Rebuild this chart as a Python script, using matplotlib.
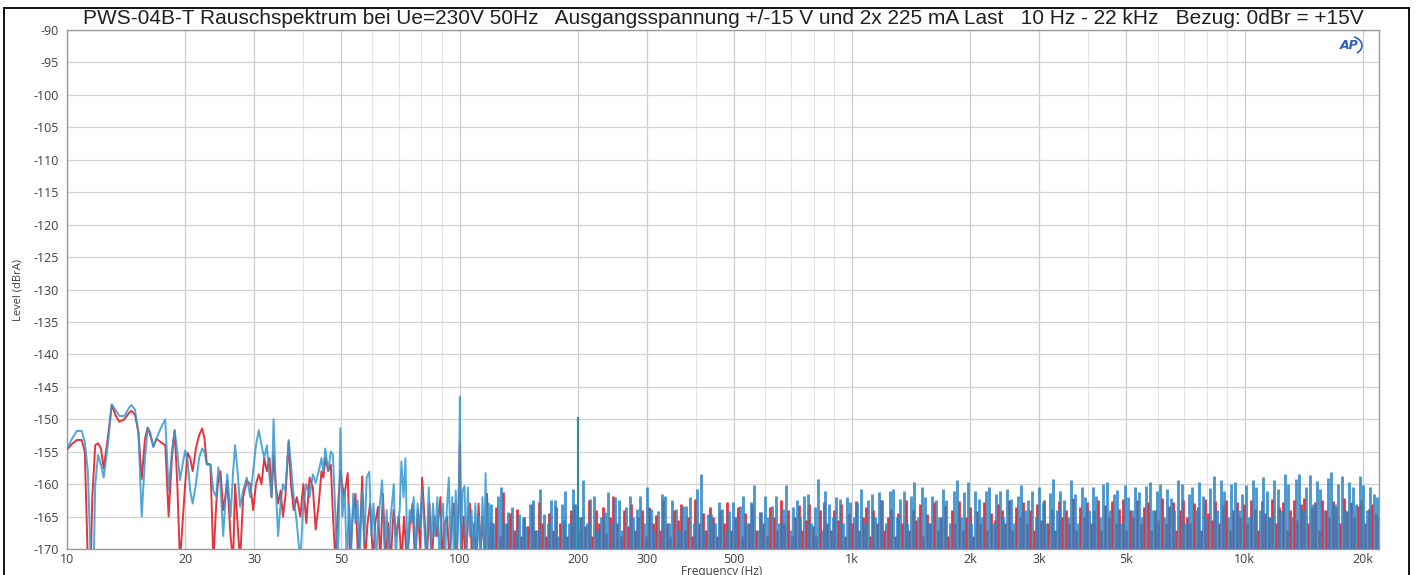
import numpy as np
import matplotlib
matplotlib.use("Agg")
import matplotlib.pyplot as plt
from matplotlib.ticker import FixedLocator, NullFormatter, NullLocator
from matplotlib.lines import Line2D
from matplotlib.patches import Arc

# ---------------- data ----------------
title = ("PWS-04B-T Rauschspektrum bei Ue=230V 50Hz   Ausgangsspannung +/-15 V und 2x 225 mA Last"
         "   10 Hz - 22 kHz   Bezug: 0dBr = +15V")
x_ticks = [10, 20, 30, 50, 100, 200, 300, 500, 1000, 2000, 3000, 5000, 10000, 20000]
x_tick_labels = ["10", "20", "30", "50", "100", "200", "300", "500", "1k", "2k", "3k", "5k", "10k", "20k"]
x_minor = [40, 60, 70, 80, 90, 400, 600, 700, 800, 900, 4000, 6000, 7000, 8000, 9000]
y_ticks = list(range(-90, -171, -5))

# low-frequency part (10 Hz ... 120 Hz), blue channel
blue_f = [10.0, 10.3, 10.6, 10.9, 11.1, 11.3, 11.5, 11.7, 11.8, 12.0, 12.2, 12.4, 12.7, 13.0, 13.3,
          13.6, 14.0, 14.4, 14.6, 14.9, 15.2, 15.5, 15.8, 16.05, 16.3, 16.6, 16.9, 17.3, 17.8, 18.15,
          18.5, 18.8, 19.1, 19.4, 19.7, 20.0, 20.3, 20.6, 20.9, 21.3, 21.7, 22.1, 22.4, 22.7, 23.2,
          23.6, 24.0, 24.3, 24.6, 25.0, 25.3, 25.6, 26.1, 26.5, 26.8, 27.2, 27.6, 28.1, 28.7, 29.3,
          29.8, 30.3, 30.8, 31.3, 31.8, 32.3, 32.8, 33.2, 33.6, 34.0, 34.5, 35.0, 35.5, 36.0, 36.7,
          37.2, 37.8, 38.5, 39.3, 40.0, 40.7, 41.5, 42.3, 43.0, 43.8, 44.5, 45.0, 45.5, 46.3, 47.0,
          47.6, 48.3, 48.8, 49.2,
          49.7, 50.3, 51.0, 51.6, 52.3, 53.0, 53.6, 54.3, 55.0, 55.7, 56.4, 57.2, 58.0, 58.9, 59.6,
          60.4, 61.2, 62.0, 62.7, 63.5, 64.4, 65.2, 66.0, 66.8, 68.0, 68.8, 69.6, 70.4, 71.1, 72.0,
          72.8, 73.7, 74.6, 75.5, 76.4, 77.3, 78.2, 79.2, 80.3, 81.2, 82.3, 83.5, 84.5, 85.6, 86.7,
          87.8, 88.9, 89.8, 90.8, 91.8, 92.8, 93.9, 94.9, 95.8, 96.8, 97.8, 98.7, 99.6, 100.2, 100.8,
          101.8, 103.0, 104.0, 105.0, 106.2, 107.3, 108.5, 109.7, 110.9, 112.0, 113.2, 114.4, 115.6,
          116.5, 117.6, 118.8, 120.0]
blue_lvl = [-154.5, -153.0, -151.8, -151.8, -153.5, -158, -172, -172, -160, -155.5, -157, -159, -154, -147.7, -148.6,
            -149.5, -149.5, -148.2, -147.8, -148.5, -152, -165, -156, -151.3, -152, -154.3, -153, -151.5, -150, -161,
            -155, -151.7, -155, -159.4, -157, -154.8, -156.5, -161, -163, -160, -156, -154.5, -155, -157, -157,
            -161, -162, -157.4, -160, -168, -163, -158.5, -165, -158, -154, -158, -163.5, -161, -159, -162,
            -158, -154, -151.7, -154, -156, -154, -159, -162, -150, -160, -168, -163, -160, -161, -153.2,
            -157, -162, -166, -172, -163, -160, -162, -158.5, -159.8, -158, -156, -158, -154.5, -158, -155,
            -155.5, -165, -172, -168,
            -151.4, -165, -161, -172, -163, -170, -161.5, -166, -162.5, -172, -161, -169, -159, -158.1, -168,
            -163, -172, -166, -163, -159.4, -170, -164, -172, -165, -160, -172, -166, -164, -156.5, -162,
            -156, -172, -164, -166, -162, -172, -163, -167, -161, -166, -172, -160.5, -170, -163, -168,
            -162, -172, -165, -163, -172, -164, -159, -170, -162, -172, -161, -170, -163, -146.5, -170,
            -161, -160.3, -172, -160.5, -168, -164, -172, -163, -170, -165, -172, -162, -170,
            -158.3, -172, -163, -170]

# low-frequency part (10 Hz ... 120 Hz), red channel
red_f = [10.0, 10.3, 10.6, 10.9, 11.1, 11.3, 11.5, 11.6, 11.8, 12.0, 12.2, 12.4, 12.7, 13.0, 13.3,
         13.6, 14.0, 14.4, 14.6, 14.9, 15.2, 15.5, 15.8, 16.05, 16.3, 16.6, 16.9, 17.3, 17.8, 18.15,
         18.5, 18.8, 19.1, 19.4, 19.7, 20.0, 20.3, 20.6, 20.9, 21.3, 21.7, 22.1, 22.4, 22.7, 23.2,
         23.6, 24.0, 24.3, 24.6, 25.0, 25.3, 25.6, 26.1, 26.5, 26.8, 27.2, 27.6, 28.1, 28.7, 29.3,
         29.8, 30.3, 30.8, 31.3, 31.8, 32.3, 32.8, 33.2, 33.6, 34.0, 34.5, 35.0, 35.5, 36.0, 36.7,
         37.2, 37.8, 38.5, 39.3, 40.0, 40.7, 41.5, 42.3, 43.0, 43.8, 44.5, 45.0, 45.5, 46.3, 47.0,
         47.6, 48.3, 48.8, 49.2, 49.7,
         50.8, 51.9, 52.6, 53.4, 54.3, 55.2, 56.0, 56.5, 57.4, 58.3, 59.2, 60.2, 61.0, 62.0, 62.8,
         63.8, 64.8, 65.8, 66.8, 67.9, 69.0, 70.0, 71.2, 72.2, 73.5, 74.8, 75.9, 77.0, 78.3, 79.4,
         80.3, 81.4, 82.5, 83.8, 85.0, 86.3, 87.6, 89.4, 90.5, 91.7, 93.0, 94.2, 95.5, 96.8, 98.0,
         99.2, 100.2, 101.2, 102.4, 103.7, 105.0, 106.3, 107.6, 109.0, 110.4, 111.8, 113.2, 114.6,
         116.0, 117.5, 119.0, 120.0]
red_lvl = [-154.7, -153.8, -153.2, -153.2, -155, -172, -172, -162, -154, -153.7, -154.5, -157.6, -153, -147.8, -149.4,
           -150.4, -150.0, -149.0, -148.7, -149.3, -152, -159.2, -153, -151.3, -152.5, -154.2, -153, -153.5, -154, -165,
           -156, -151.7, -160, -172, -166, -160, -155.2, -156, -158, -154.5, -152.5, -151.4, -153, -156.8, -157,
           -172, -163, -159, -158, -164, -162, -159.5, -168, -172, -160, -166, -172, -162, -159.5, -160,
           -164, -160, -158.5, -160, -156, -158, -156, -162, -155.5, -160, -163, -161, -165, -162, -153.5,
           -160, -164, -162, -165, -160, -166, -159, -160.5, -167, -163, -158, -159, -156, -158, -157,
           -165, -172, -166, -162, -158,
           -162, -158.3, -172, -165, -161.5, -172, -165, -158.8, -172, -166, -163, -172, -166, -163.5, -172,
           -161.5, -172, -166, -172, -164, -168, -165, -172, -165, -172, -166, -163, -172, -164, -170,
           -159, -165, -172, -163, -172, -165, -168, -162, -172, -166, -165, -172, -166, -163, -172,
           -165, -153.5, -172, -165, -172, -166, -163, -172, -166, -172, -163, -170, -165,
           -172, -161.5, -172, -166]

# dense part 120 Hz ... 21.8 kHz: spike tops per display column (dBrA)
blue_dense = [
    -163, -166, -161.8,
    -160.4, -166, -164.3, -163.6, -167, -164.6, -165.1, -166.5, -163, -162.5,
    -167, -160.7, -164.6, -166, -162.5, -162.5, -168, -163.0, -161.0, -166,
    -160.7, -163.0, -165, -159.4, -166, -162.3, -161.8, -167, -165.1, -164.3,
    -161.2, -166, -162.0, -162.5, -167, -163.6, -161.8, -165, -163.8, -161.9,
    -166, -160.5, -163.8, -167, -164.1, -161.5, -161.8, -166, -162.5, -163.8,
    -167, -163.3, -163.3, -162.0, -166, -160.7, -158.4, -167, -164.6, -164.6,
    -166, -162.8, -163.8, -167, -164.1, -162.8, -165, -163.3, -161.8, -166,
    -162.8, -160.2, -167, -164.3, -161.8, -165, -163.3, -161.8, -166, -163.8,
    -160.2, -167, -163.6, -162.5, -165, -161.8, -161.5, -166, -163.6, -159.2,
    -167, -161.0, -163.0, -165, -162.0, -162.3, -166, -162.0, -162.8, -165,
    -162.8, -160.7, -166, -162.5, -161.5, -165, -161.2, -162.5, -166, -161.0,
    -160.7, -165, -162.3, -161.0, -166, -161.8, -159.6, -165, -160.5, -162.0,
    -166, -161.8, -162.5, -165, -160.7, -162.5, -166, -161.0, -159.4, -165,
    -161.2, -159.7, -166, -161.0, -162.3, -165, -161.0, -160.5, -166, -161.5,
    -161.0, -165, -160.7, -162.3, -166, -161.8, -160.2, -164, -162.5, -161.0,
    -165, -160.5, -162.8, -166, -161.3, -159.2, -164, -161.0, -162.5, -165,
    -159.4, -161.5, -166, -160.5, -162.0, -164, -160.5, -161.8, -165, -160.0,
    -159.7, -164, -161.5, -160.9, -166, -160.2, -162.0, -164, -160.5, -161.2,
    -165, -160.3, -159.7, -164, -161.0, -160.0, -165, -160.8, -162.2, -164,
    -159.4, -160.0, -166, -161.5, -160.5, -164, -159.7, -161.8, -165, -160.6,
    -158.8, -164, -159.4, -161.0, -165, -160.0, -159.7, -164, -161.5, -160.2,
    -165, -159.3, -160.5, -164, -158.9, -161.0, -165, -159.4, -160.8, -164,
    -158.5, -160.0, -165, -159.2, -158.4, -164, -160.5, -158.6, -163, -159.5,
    -160.8, -164, -159.0, -158.2, -163, -160.0, -158.8, -164, -159.6, -160.5,
    -163, -158.7, -160.2, -164, -160.5, -161.5, -162]

red_dense = [
    -166, -163.5, -168,
    -161.2, -166, -164.5, -167, -163.8, -168, -165, -166.5, -163, -167,
    -162.8, -166, -168, -164.5, -167, -163.5, -166, -165.5, -168, -164,
    -163, -167, -165, -166.5, -162.5, -168, -164, -166, -163.5, -167.5,
    -165, -161.8, -166, -168, -164, -166.5, -163, -167, -165, -164,
    -168, -163.5, -166, -164.8, -167, -162.5, -166, -168, -164, -165.5,
    -163, -167, -165, -168, -162.3, -166, -164.5, -167, -163.5, -165,
    -168, -164, -166, -162.8, -167, -165, -163.5, -168, -164.5, -166,
    -163, -167, -164.3, -166, -168, -163.5, -165, -167, -162.5, -166,
    -164, -168, -165, -163.2, -167, -165.5, -163, -166.5, -168, -164,
    -162.8, -166, -167, -164, -165.5, -163, -168, -164.5, -166, -162.6,
    -167, -165, -163.5, -168, -164, -166, -162.4, -167, -165, -163.8,
    -168, -164.5, -166, -162.5, -167, -164, -165.5, -163, -168, -164.6,
    -166, -162.8, -167, -165, -163.4, -168, -164, -166, -162.6, -167,
    -165, -163.5, -168, -164.2, -166, -162.8, -167, -164.5, -165.5, -163,
    -164, -166, -162.5, -167, -163.5, -165, -162.8, -166, -164, -167,
    -163, -165.5, -162.4, -166, -163.8, -167, -162.6, -165, -164, -166,
    -162.2, -167, -163.5, -165, -162.8, -166, -164, -162.5, -167, -163.2,
    -165, -162.6, -166, -163.8, -162.3, -167, -164, -165, -162.5, -166,
    -163.5, -162.8, -167, -164, -165.5, -162.2, -166, -163.4, -162.8, -167,
    -164, -162.4, -165, -166, -162.9, -163.6, -167, -162.3, -164.5, -165.5,
    -162.6, -166, -163.2, -162.5, -167, -164, -162.8, -165, -163, -166,
    -162.4, -163.8, -167, -162.6, -164.5, -165, -162.3, -166, -163.5, -162.8,
    -167, -164, -162.5, -165.5, -163, -162.2, -166, -163.6, -162.8, -167,
    -162.4, -164, -165, -162.6, -163.5, -166, -162.2, -164.2, -162.8, -165,
    -163.4, -162.5, -166, -163.8, -163, -164.5, -165]

# hum harmonic at 200 Hz
hum_f = [200.0]
hum_blue = [-149.7]
hum_red = [-163.0]

dense_start_hz = 120.0
dense_stop_hz = 21800.0

# ---------------- style ----------------
BLUE = "#3198d2"
BLUE_D = "#2a86c6"
RED = "#e5343d"
W, H = 1417, 575

fig = plt.figure(figsize=(W / 100, H / 100), dpi=100)
ax = fig.add_axes([67 / W, 1 - 549 / H, (1379 - 67) / W, (549 - 30) / H])

y_lo, y_hi = -170, -90
ax.set_xscale("log")
ax.set_xlim(10, 22000)
ax.set_ylim(y_lo, y_hi)

# grid
for v in x_ticks:
    ax.axvline(v, color="#cccccc", lw=0.9, zorder=0)
for v in x_minor:
    ax.axvline(v, color="#e4e4e4", lw=0.8, zorder=0)
for v in y_ticks:
    ax.axhline(v, color="#d2d2d2", lw=0.9, zorder=0)

# data
n_b = len(blue_dense)
fb = np.geomspace(dense_start_hz, dense_stop_hz, n_b)
step = (dense_stop_hz / dense_start_hz) ** (1 / (n_b - 1))
n_r = len(red_dense)
fr = np.geomspace(dense_start_hz * step ** 0.5, dense_stop_hz * step ** 0.5, n_r)

ax.plot(red_f, red_lvl, color=RED, lw=1.4, zorder=2, solid_joinstyle="round")
ax.vlines(fr, y_lo, red_dense, color=RED, lw=2.0, zorder=2)
ax.vlines(hum_f, y_lo, hum_red, color=RED, lw=1.4, zorder=2)

ax.plot(blue_f, blue_lvl, color=BLUE, lw=1.4, alpha=0.85, zorder=3, solid_joinstyle="round")
ax.vlines(fb, y_lo, blue_dense, color=BLUE_D, lw=2.05, alpha=0.85, zorder=3)
ax.vlines(hum_f, y_lo, hum_blue, color="#2a8c9c", lw=1.5, zorder=3)

# axes styling
for s in ax.spines.values():
    s.set_color("#9a9a9a")
    s.set_linewidth(1.0)
ax.xaxis.set_major_locator(FixedLocator(x_ticks))
ax.set_xticklabels(x_tick_labels)
ax.xaxis.set_minor_locator(NullLocator())
ax.xaxis.set_minor_formatter(NullFormatter())
ax.set_yticks(y_ticks)
ax.set_yticklabels([str(v) for v in y_ticks])
ax.tick_params(axis="both", length=0, labelsize=9, labelcolor="#404040")
ax.tick_params(axis="x", pad=3)
ax.tick_params(axis="y", pad=6)
for lab in ax.get_xticklabels() + ax.get_yticklabels():
    lab.set_family("Open Sans")

# texts
fig.text(723 / W, 1 - 18 / H, title, ha="center", va="center", fontsize=15,
         family="Liberation Sans", color="#202020")
fig.text(722 / W, 1 - 571 / H, "Frequency (Hz)", ha="center", va="center", fontsize=8.5,
         family="Open Sans", color="#404040")
fig.text(18 / W, 1 - 290 / H, "Level (dBrA)", ha="center", va="center", rotation=90,
         fontsize=8, family="Open Sans", color="#404040")

# AP logo
ax.text(0.9775, 0.970, "AP", transform=ax.transAxes, ha="center", va="center",
        fontsize=9, fontweight="bold", fontstyle="italic", color="#2a5fb8", family="DejaVu Sans")
ax.add_patch(Arc((0.978, 0.970), 0.018, 0.035, theta1=-70, theta2=80, transform=ax.transAxes,
                 color="#2a5fb8", lw=1.2))

# outer frame
for xs, ys in [((4 / W, 4 / W), (0, 1 - 8 / H)), ((4 / W, 1409 / W), (1 - 8 / H, 1 - 8 / H)),
               ((1409 / W, 1409 / W), (0, 1 - 8 / H))]:
    fig.add_artist(Line2D(xs, ys, color="black", lw=1.3, transform=fig.transFigure))

fig.savefig("out.png", dpi=100, facecolor="white")
